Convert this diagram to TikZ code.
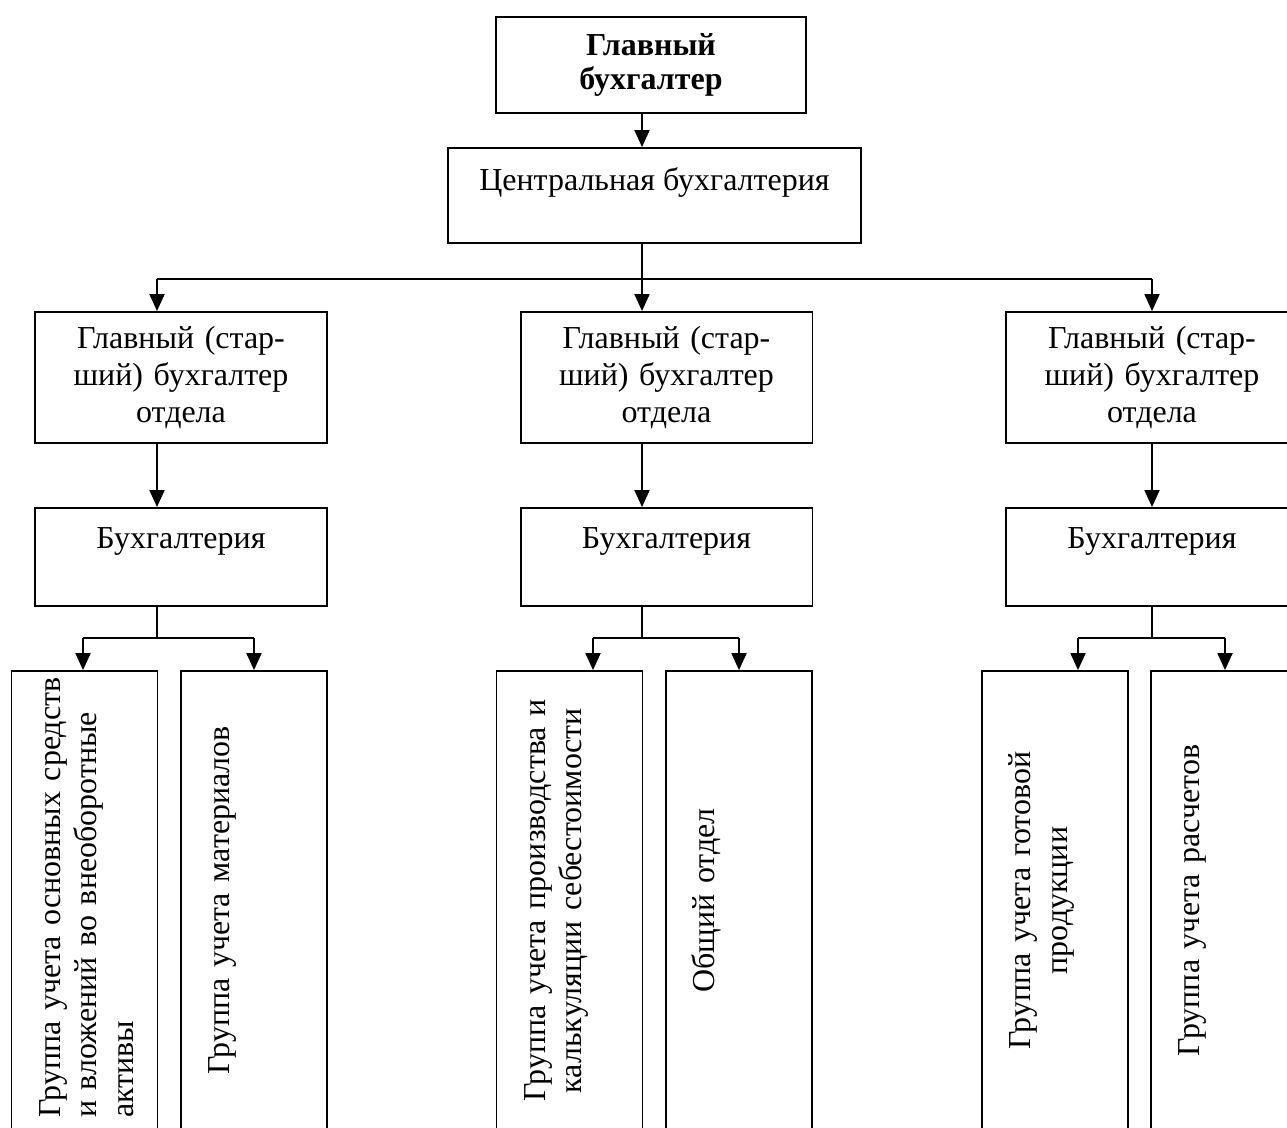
\documentclass[tikz,border=0pt]{standalone}
\usepackage{fontspec}
\setmainfont{Liberation Serif}
\usetikzlibrary{arrows.meta,positioning}
\tikzset{
  every node/.style={
    font=\fontsize{18.2pt}{21pt}\selectfont
  },
  box/.style={
    shape=rectangle,
    draw=black,
    line width=1.1pt,
    inner sep=2pt,
    align=center
  },
  chief/.style={
    box,
    minimum width=6.2cm,
    minimum height=1.92cm,
    font=\fontsize{18.2pt}{19pt}\selectfont\bfseries
  },
  office/.style={
    box,
    minimum width=8.26cm,
    minimum height=1.9cm,
    text height=0.42cm,
    text depth=0.64cm
  },
  senior/.style={
    box,
    text width=5.4cm,
    minimum width=5.84cm,
    minimum height=2.62cm
  },
  accounts/.style={
    box,
    minimum width=5.84cm,
    minimum height=1.96cm,
    text height=0.42cm,
    text depth=0.78cm
  },
  groupbox/.style={
    box,
    rotate=90,
    text width=8.7cm,
    minimum width=9.18cm,
    minimum height=2.92cm,
    text height=0.42cm,
    text depth=1.4cm
  },
  wire/.style={
    line width=1.1pt
  },
  link/.style={
    wire,
    -{Triangle[length=0.34cm,width=0.3cm]}
  }
}

\begin{document}
\begin{tikzpicture}[x=0.02cm,y=-0.02cm]
  \useasboundingbox (0,0) rectangle (1287,1127);
  \clip (0,0) rectangle (1287,1127);

  \node [chief] (chief) at (651,65) {Главный\\бухгалтер};
  \node [office] (office) at (654.5,195.5) {Центральная бухгалтерия};

  \foreach \i/\x in {1/181,2/666.5,3/1152} {
    \node [senior] (senior\i) at (\x,377.5) {Главный (стар-\\ший) бухгалтер\\отдела};
    \node [accounts] (acc\i) at (\x,557) {Бухгалтерия};
  }

  \node [groupbox,align=left] (g11) at (84.5,900.5)
    {\mbox{Группа учета основных средств}\\и вложений во внеоборотные\\активы};
  \node [groupbox] (g12) at (254,900.5) {Группа учета материалов};
  \node [groupbox] (g21) at (569.5,900.5)
    {Группа учета производства и\\калькуляции себестоимости};
  \node [groupbox] (g22) at (739,900.5) {Общий отдел};
  \node [groupbox] (g31) at (1055,900.5) {Группа учета готовой\\продукции};
  \node [groupbox] (g32) at (1224,900.5) {Группа учета расчетов};

  \coordinate (c1) at (157,279);
  \coordinate (c2) at (642,279);
  \coordinate (c3) at (1152,279);

  \draw [link] (chief.south -| c2) -- (office.north -| c2);
  \draw [wire] (office.south -| c2) -- (c2);
  \draw [wire] (c1) -- (c3);

  \foreach \i/\l/\r in {1/83/254,2/593/739,3/1078/1225} {
    \draw [link] (c\i) -- (senior\i.north -| c\i);
    \draw [link] (senior\i.south -| c\i) -- (acc\i.north -| c\i);
    \coordinate (j\i) at (c\i |- 0,638);
    \coordinate (jl\i) at (\l,638);
    \coordinate (jr\i) at (\r,638);
    \draw [wire] (acc\i.south -| j\i) -- (j\i);
    \draw [wire] (jl\i) -- (jr\i);
    \draw [link] (jl\i) -- (jl\i |- g\i1.east);
    \draw [link] (jr\i) -- (jr\i |- g\i2.east);
  }
\end{tikzpicture}
\end{document}
